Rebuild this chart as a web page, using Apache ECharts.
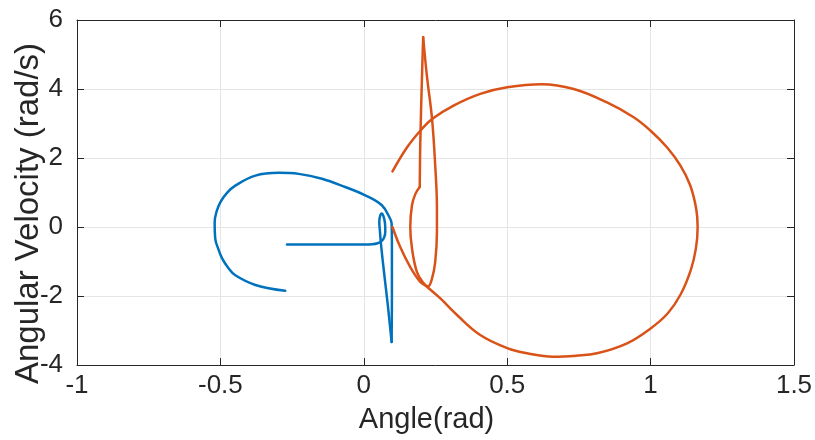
<!DOCTYPE html>
<html>
<head>
<meta charset="utf-8">
<script src="https://cdn.jsdelivr.net/npm/echarts@6/dist/echarts.min.js"></script>
<style>
  html, body { margin: 0; padding: 0; background: #fff; }
  #chart { width: 815px; height: 440px; }
</style>
</head>
<body>
<div id="chart"></div>
<script>
// axis ranges
var angleTicks = [-1, -0.5, 0, 0.5, 1, 1.5];
var velTicks = [-4, -2, 0, 2, 4, 6];

// blue: flat part, small loop, slanted drop
var blueLoopAngle = [-0.268, -0.15, -0.05, 0.0, 0.029, 0.048, 0.062, 0.071, 0.075, 0.074, 0.069, 0.063, 0.057, 0.054, 0.056, 0.06, 0.069, 0.079, 0.088, 0.097];
var blueLoopVel = [-0.51, -0.51, -0.51, -0.51, -0.5, -0.47, -0.41, -0.3, -0.12, 0.1, 0.3, 0.39, 0.32, 0.14, -0.1, -0.5, -1.2, -1.92, -2.6, -3.33];
// blue: vertical rise and the big arc
var blueArcAngle = [0.097, 0.098, 0.098, 0.097, 0.092, 0.063, 0.005, -0.065, -0.146, -0.227, -0.297, -0.378, -0.448, -0.477, -0.5, -0.514, -0.52, -0.518, -0.508, -0.494, -0.473, -0.448, -0.378, -0.274];
var blueArcVel = [-3.33, -2.0, -0.5, 0.1, 0.24, 0.63, 0.92, 1.16, 1.4, 1.54, 1.57, 1.49, 1.2, 0.99, 0.72, 0.43, 0.14, -0.34, -0.62, -0.91, -1.18, -1.4, -1.68, -1.85];

// red: start line and the big circle
var redCircleAngle = [0.1, 0.127, 0.162, 0.197, 0.22, 0.267, 0.325, 0.406, 0.5, 0.569, 0.66, 0.74, 0.813, 0.918, 1.0, 1.06, 1.105, 1.14, 1.158, 1.164,
    1.159, 1.138, 1.104, 1.057, 1.0, 0.941, 0.848, 0.732, 0.62, 0.5, 0.406, 0.313, 0.238, 0.197, 0.151, 0.1];
var redCircleVel = [0.0, -0.58, -1.16, -1.59, -1.73, -2.07, -2.55, -3.13, -3.51, -3.66, -3.76, -3.73, -3.66, -3.37, -2.94, -2.5, -1.95, -1.25, -0.62, 0.0,
    0.53, 1.21, 1.78, 2.31, 2.79, 3.18, 3.61, 4.0, 4.14, 4.05, 3.86, 3.52, 3.13, 2.79, 2.31, 1.61];
// red: narrow loop from the spike tip round to the kink
var redLoopAngle = [0.207, 0.22, 0.238, 0.249, 0.255, 0.255, 0.249, 0.238, 0.224, 0.206, 0.185, 0.168, 0.162, 0.168, 0.18, 0.195];
var redLoopVel = [5.5, 4.38, 3.13, 1.78, 0.53, -0.14, -1.01, -1.49, -1.72, -1.6, -1.3, -0.62, 0.0, 0.63, 0.96, 1.16];
// red: straight rise from the kink to the tip
var redSpikeAngle = [0.195, 0.197, 0.203, 0.207];
var redSpikeVel = [1.16, 2.46, 4.38, 5.5];

function pairs(xs, ys) {
    var out = [];
    for (var i = 0; i < xs.length; i++) {
        out.push([xs[i], ys[i]]);
    }
    return out;
}

function curve(xs, ys, color) {
    return {
        type: 'line',
        data: pairs(xs, ys),
        showSymbol: false,
        smooth: 0.4,
        lineStyle: { color: color, width: 2.5, cap: 'round', join: 'round' },
        itemStyle: { color: color }
    };
}

var chart = echarts.init(document.getElementById('chart'));
var fontFamily = '"Liberation Sans", Arial, sans-serif';
var textColor = '#262626';
var blue = '#0072BD';
var red = '#D95319';

var option = {
    animation: false,
    backgroundColor: '#fff',
    grid: { left: 77, right: 21, top: 20, bottom: 75, containLabel: false, outerBoundsMode: 'none' },
    xAxis: [{
        type: 'value',
        min: angleTicks[0],
        max: angleTicks[angleTicks.length - 1],
        interval: 0.5,
        name: 'Angle(rad)',
        nameLocation: 'middle',
        nameGap: 40,
        nameMoveOverlap: false,
        nameTextStyle: { fontSize: 29, color: textColor, fontFamily: fontFamily, padding: [0, 18, 0, 0] },
        axisLine: { onZero: false, lineStyle: { color: '#262626', width: 1 } },
        axisTick: { inside: true, length: 7, lineStyle: { color: '#262626' } },
        axisLabel: { fontSize: 26, color: textColor, fontFamily: fontFamily, margin: 8 },
        splitLine: { show: true, lineStyle: { color: '#e5e5e5', width: 1 } }
    }, {
        type: 'value',
        position: 'top',
        min: -1, max: 1.5, interval: 0.5,
        axisLine: { show: true, onZero: false, lineStyle: { color: '#262626', width: 1 } },
        axisTick: { inside: true, length: 7, lineStyle: { color: '#262626' } },
        axisLabel: { show: false },
        splitLine: { show: false }
    }],
    yAxis: [{
        type: 'value',
        min: velTicks[0],
        max: velTicks[velTicks.length - 1],
        interval: 2,
        name: 'Angular Velocity (rad/s)',
        nameLocation: 'middle',
        nameRotate: 90,
        nameGap: 32,
        nameMoveOverlap: false,
        nameTextStyle: { fontSize: 33, color: textColor, fontFamily: fontFamily, padding: [0, 42, 0, 0] },
        axisLine: { show: true, onZero: false, lineStyle: { color: '#262626', width: 1 } },
        axisTick: { show: true, inside: true, length: 7, lineStyle: { color: '#262626' } },
        axisLabel: { fontSize: 26, color: textColor, fontFamily: fontFamily, margin: 14 },
        splitLine: { show: true, lineStyle: { color: '#e5e5e5', width: 1 } }
    }, {
        type: 'value',
        position: 'right',
        min: -4, max: 6, interval: 2,
        axisLine: { show: true, onZero: false, lineStyle: { color: '#262626', width: 1 } },
        axisTick: { show: true, inside: true, length: 7, lineStyle: { color: '#262626' } },
        axisLabel: { show: false },
        splitLine: { show: false }
    }],
    series: [
        curve(blueLoopAngle, blueLoopVel, blue),
        curve(blueArcAngle, blueArcVel, blue),
        curve(redCircleAngle, redCircleVel, red),
        curve(redLoopAngle, redLoopVel, red),
        curve(redSpikeAngle, redSpikeVel, red)
    ]
};
chart.setOption(option);
</script>
</body>
</html>
